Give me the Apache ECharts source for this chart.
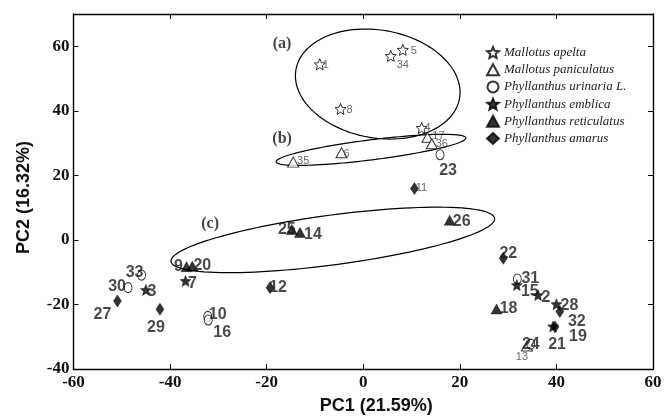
<!DOCTYPE html>
<html>
<head>
<meta charset="utf-8">
<script src="https://cdn.jsdelivr.net/npm/echarts@6/dist/echarts.min.js"></script>
<style>html,body{margin:0;padding:0;background:#fff;}#c{width:665px;height:420px;}</style>
</head>
<body>
<div id="c"></div>
<script>
// ---- data: [PC1, PC2, sample id] ----
const apelta = [[-9.0,54.4,'1'],[8.2,58.9,'5'],[5.7,57.0,'34'],[-4.7,40.6,'8'],[12.1,34.7,'4']];
const paniculatus = [[13.3,31.8,'17'],[14.2,29.8,'36'],[-4.5,27.0,'6'],[-14.5,24.1,'35'],[33.9,-32.9,'13']];
const urinaria = [[15.9,26.4,'23'],[-45.9,-10.9,'33'],[-48.7,-14.8,'30'],[-32.2,-23.7,'10'],[-32.1,-24.8,'16'],[31.9,-12.1,'31'],[34.7,-32.3,'24']];
const emblica = [[-36.8,-12.7,'7'],[-45.0,-15.5,'3'],[31.8,-14.0,'15'],[36.2,-17.1,'2'],[40.0,-19.9,'28'],[39.3,-26.8,'21']];
const reticulatus = [[-36.6,-8.3,'9'],[-35.4,-8.1,'20'],[-14.8,3.2,'25'],[-13.1,2.3,'14'],[17.9,6.1,'26'],[27.6,-21.4,'18']];
const amarus = [[10.6,15.9,'11'],[-19.3,-14.8,'12'],[-50.9,-18.9,'27'],[-42.1,-21.5,'29'],[29.0,-5.7,'22'],[40.7,-22.2,'32'],[39.7,-27.0,'19']];
const speciesNames = ['Mallotus apelta','Mallotus paniculatus','Phyllanthus urinaria L.','Phyllanthus emblica','Phyllanthus reticulatus','Phyllanthus amarus'];
// grouping ellipses: [centerX, centerY, semiAxisX, semiAxisY, tiltDeg]
const ellipses = [[3.0,48.3,17.2,16.7,10],[1.6,27.9,19.8,3.1,-7.2],[-6.3,0.0,33.8,7.7,-7.6]];
const ellipseTags = [[-16.8,60.6,'(a)'],[-16.8,31.3,'(b)'],[-31.7,5.1,'(c)']];
const xTicks = {min:-60, max:60, interval:20};
const yTicks = {min:-40, max:70, interval:20};
const yTickLabels = ['-40','-20','0','20','40','60'];

// ---- styles ----
const labelOffset = {'1':[6,1],'5':[11,1],'34':[12,9],'8':[9,1],'4':[6,0],'17':[11,-1],'36':[10,0],'6':[5,1],'35':[10,-1],'13':[-5,11],
 '24':[0,0],'11':[7,-1],'23':[8,16],'25':[-5,0],'14':[13,2],'26':[12,1],'9':[-8,0],'20':[10,0],'7':[7,3],'33':[-7,-2],'30':[-11,-1],
 '3':[6,2],'27':[-15,14],'29':[-4,18],'10':[10,-2],'16':[14,13],'12':[8,0],'22':[5,-5],'31':[13,0],'15':[13,7],'2':[8,2],'18':[12,0],
 '28':[13,1],'32':[17,10],'21':[4,18],'19':[23,10]};
const smallLabels = ['1','4','5','8','34','6','13','17','35','36','11'];
const starPath = 'path://M50,0L63.2,31.8L97.6,34.5L71.4,57L79.4,90.5L50,72.5L20.6,90.5L28.6,57L2.4,34.5L36.8,31.8Z';

function mkData(arr){
  return arr.map(d => {
    const small = smallLabels.indexOf(d[2]) >= 0;
    return {
      name: d[2], value: [d[0], d[1]],
      label: {
        offset: labelOffset[d[2]] || [8,0],
        fontSize: small ? 11 : 16,
        fontWeight: small ? 'normal' : 'bold',
        color: small ? '#444' : '#1a1a1a'
      }
    };
  });
}
function mkSeries(name, arr, symbol, size, open){
  return {
    name: name, type: 'scatter', xAxisIndex: 0, yAxisIndex: 0,
    symbol: symbol, symbolSize: size,
    itemStyle: open ? {color:'#fff', borderColor:'#000', borderWidth:1} : {color:'#000', borderColor:'#000', borderWidth:0.5},
    label: {show:true, position:'inside', formatter:'{b}', fontFamily:'Liberation Sans, Arial, sans-serif', align:'center', verticalAlign:'middle'},
    emphasis: {disabled:true},
    data: mkData(arr), z: 3
  };
}

const chart = echarts.init(document.getElementById('c'), null, {renderer:'canvas'});
const axisFont = {fontFamily:'Liberation Serif, Times New Roman, serif', fontWeight:'bold', fontSize:17, color:'#111'};
const lineStyle = {color:'#000', width:1.4};
chart.setOption({
  animation: false,
  backgroundColor: '#fff',
  grid: {left:73.5, right:12, top:14, bottom:49},
  legend: {
    data: speciesNames, orient:'vertical', left:481, top:41,
    itemWidth:12, itemHeight:11, itemGap:4.2,
    textStyle:{fontFamily:'Liberation Serif, Times New Roman, serif', fontStyle:'italic', fontSize:13, color:'#222', lineHeight:11},
    selectedMode:false
  },
  xAxis: [
    {type:'value', min:xTicks.min, max:xTicks.max, interval:xTicks.interval, position:'bottom',
     axisLine:{onZero:false, lineStyle:lineStyle}, axisTick:{inside:true, length:5, lineStyle:{color:'#000'}},
     splitLine:{show:false}, axisLabel:Object.assign({margin:5}, axisFont),
     name:'PC1 (21.59%)', nameLocation:'middle', nameGap:28,
     nameTextStyle:{fontFamily:'Liberation Sans, Arial, sans-serif', fontWeight:'bold', fontSize:18, color:'#111', padding:[0,0,0,26]}},
    {type:'value', min:xTicks.min, max:xTicks.max, interval:xTicks.interval, position:'top',
     axisLine:{onZero:false, lineStyle:lineStyle}, axisTick:{inside:true, length:5, lineStyle:{color:'#000'}},
     splitLine:{show:false}, axisLabel:{show:false}}
  ],
  yAxis: [
    {type:'value', min:yTicks.min, max:yTicks.max, interval:yTicks.interval, position:'left',
     axisLine:{onZero:false, lineStyle:lineStyle}, axisTick:{inside:true, length:5, lineStyle:{color:'#000'}},
     splitLine:{show:false},
     axisLabel:Object.assign({margin:4, showMaxLabel:false,
       formatter: v => yTickLabels.indexOf(String(v)) >= 0 ? String(v) : ''}, axisFont),
     name:'PC2 (16.32%)', nameLocation:'middle', nameGap:40, nameRotate:90,
     nameTextStyle:{fontFamily:'Liberation Sans, Arial, sans-serif', fontWeight:'bold', fontSize:18, color:'#111', padding:[0,12,0,0]}},
    {type:'value', min:yTicks.min, max:yTicks.max, interval:yTicks.interval, position:'right',
     axisLine:{onZero:false, lineStyle:lineStyle}, axisTick:{inside:true, length:5, lineStyle:{color:'#000'}},
     splitLine:{show:false}, axisLabel:{show:false}}
  ],
  series: [
    mkSeries(speciesNames[0], apelta, starPath, 11, true),
    mkSeries(speciesNames[1], paniculatus, 'triangle', [11,10], true),
    mkSeries(speciesNames[2], urinaria, 'circle', [8,10], true),
    mkSeries(speciesNames[3], emblica, starPath, 11, false),
    mkSeries(speciesNames[4], reticulatus, 'triangle', [11,10], false),
    mkSeries(speciesNames[5], amarus, 'diamond', [8,12], false),
    {
      type:'custom', name:'groups', xAxisIndex:0, yAxisIndex:0, silent:true, z:2,
      data: ellipses,
      renderItem: function(params, api){
        const c = api.coord([api.value(0), api.value(1)]);
        const rx = api.size([api.value(2), 0])[0];
        const ry = api.size([0, api.value(3)])[1];
        const th = api.value(4) * Math.PI / 180;
        const pts = [];
        for (let i = 0; i < 120; i++) {
          const t = i / 120 * Math.PI * 2;
          const ux = rx * Math.cos(t), uy = ry * Math.sin(t);
          pts.push([c[0] + ux*Math.cos(th) - uy*Math.sin(th), c[1] + ux*Math.sin(th) + uy*Math.cos(th)]);
        }
        return {type:'polygon', shape:{points:pts}, style:{fill:'none', stroke:'#000', lineWidth:1.2}};
      }
    },
    {
      type:'scatter', name:'tags', xAxisIndex:0, yAxisIndex:0, symbolSize:1, silent:true,
      itemStyle:{color:'rgba(0,0,0,0)'},
      label:{show:true, position:'inside', formatter:'{b}', fontFamily:'Liberation Serif, Times New Roman, serif', fontWeight:'bold', fontSize:16, color:'#111'},
      data: ellipseTags.map(d => ({name:d[2], value:[d[0], d[1]]}))
    }
  ]
});
</script>
</body>
</html>
